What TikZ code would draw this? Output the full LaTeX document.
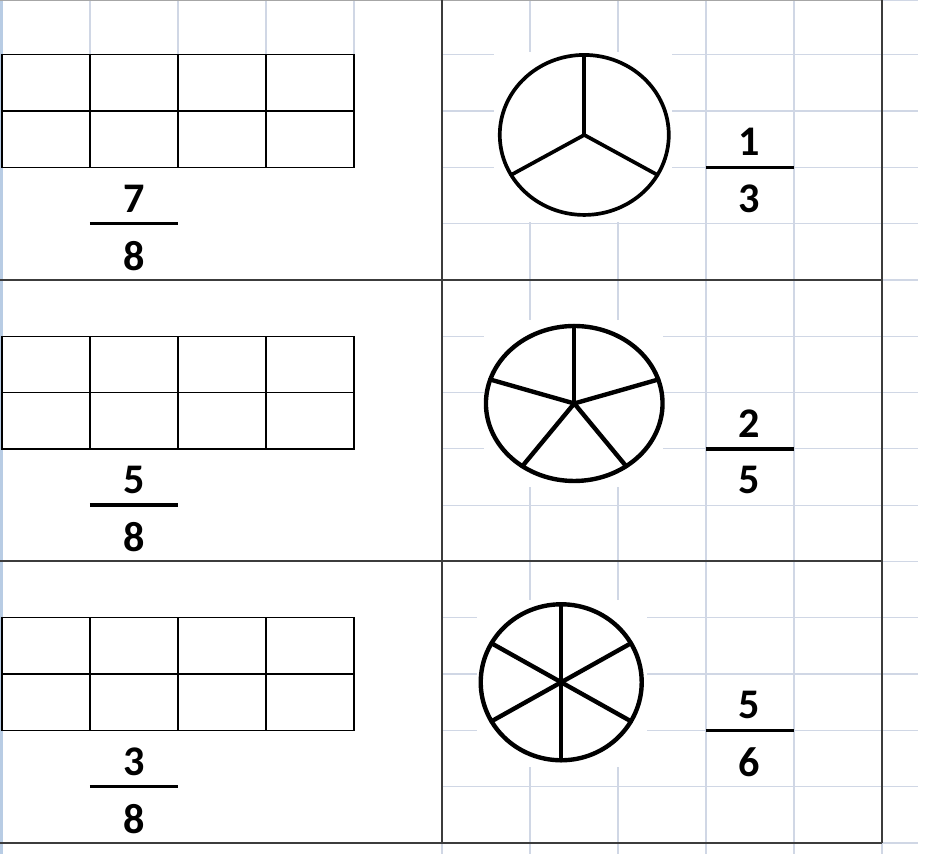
\documentclass[tikz,border=0pt]{standalone}
\usepackage{fontspec}
\setmainfont{Carlito}
\usepackage{tikz}
\definecolor{gridC}{RGB}{208,215,229}
\definecolor{bandC}{RGB}{184,204,228}
\definecolor{borderC}{RGB}{60,60,60}

\begin{document}
\begin{tikzpicture}[x=1.76cm, y=1.126cm, font=\fontsize{24}{28}\selectfont\bfseries]
  \useasboundingbox (-0.0227,-0.1954) rectangle (10.739,14.973);
  \tikzstyle{gridline}=[draw=gridC, line width=0.7pt]
  \tikzstyle{border}=[draw=borderC, line width=1.1pt]
  \tikzstyle{cellbox}=[draw=black, line width=0.8pt]
  \tikzstyle{fracbar}=[draw=black, line width=1.9pt]
  \tikzstyle{wheel}=[draw=black, line width=2.5pt, line cap=round]

  % sheet grid
  \foreach \x in {5,...,10} \draw[gridline] (\x,-0.25) -- (\x,15);
  \foreach \y in {0,...,14} \draw[gridline] (5,\y) -- (10.41,\y);
  \draw[gridline] (10,14.96) -- (10.41,14.96);
  \foreach \x in {1,...,4} \draw[gridline] (\x,14) -- (\x,15);
  \fill[bandC] (-0.03,-0.25) rectangle (0.017,15);
  \draw[draw=gray!70, line width=0.8pt] (-0.03,14.96) -- (10,14.96);

  % table borders
  \draw[border] (5,0) -- (5,15);
  \draw[border] (10,0) -- (10,15);
  \foreach \y in {0,5,10} \draw[border] (-0.03,\y) -- (10,\y);

  % rectangles of eight parts
  \foreach \y in {2,7,12} {
    \draw[cellbox] (0,\y) rectangle (4,\y+2);
    \draw[cellbox] (0,\y+1) -- (4,\y+1);
    \foreach \x in {1,2,3} \draw[cellbox] (\x,\y) -- (\x,\y+2);
  }

  % left fractions
  \node (numA) at (1.5,11.45) {7};
  \node (denA) at (1.5,10.43) {8};
  \draw[fracbar] (1,11) -- (2,11);
  \node (numB) at (1.5,6.45) {5};
  \node (denB) at (1.5,5.43) {8};
  \draw[fracbar] (1,6) -- (2,6);
  \node (numC) at (1.5,1.45) {3};
  \node (denC) at (1.5,0.43) {8};
  \draw[fracbar] (1,1) -- (2,1);

  % circles
  \coordinate (pieA) at (6.617,12.576);
  \fill[white] (pieA) ++(-1.81cm,-1.74cm) rectangle ++(3.56cm,3.40cm);
  \draw[wheel, line width=2.1pt] (pieA) ellipse [x radius=1.69cm, y radius=1.6cm];
  \foreach \a in {90,210,330}
    \draw[wheel, line width=2.1pt] (pieA) -- ++(\a:1.69cm and 1.6cm);

  \coordinate (pieB) at (6.503,7.806);
  \fill[white] (pieB) ++(-1.81cm,-1.67cm) rectangle ++(3.58cm,3.34cm);
  \draw[wheel] (pieB) ellipse [x radius=1.766cm, y radius=1.55cm];
  \foreach \a in {18,90,162,234,306}
    \draw[wheel] (pieB) -- ++(\a:1.766cm and 1.55cm);

  \coordinate (pieC) at (6.355,2.854);
  \fill[white] (pieC) ++(-1.68cm,-1.69cm) rectangle ++(3.40cm,3.34cm);
  \draw[wheel] (pieC) ellipse [x radius=1.61cm, y radius=1.56cm];
  \foreach \a in {30,90,...,330}
    \draw[wheel] (pieC) -- ++(\a:1.61cm and 1.56cm);

  % right fractions
  \node (numD) at (8.49,12.45) {1};
  \node (denD) at (8.49,11.44) {3};
  \draw[fracbar] (8,12) -- (9,12);
  \node (numE) at (8.49,7.45) {2};
  \node (denE) at (8.49,6.44) {5};
  \draw[fracbar] (8,7) -- (9,7);
  \node (numF) at (8.49,2.45) {5};
  \node (denF) at (8.49,1.44) {6};
  \draw[fracbar] (8,2) -- (9,2);
\end{tikzpicture}
\end{document}
